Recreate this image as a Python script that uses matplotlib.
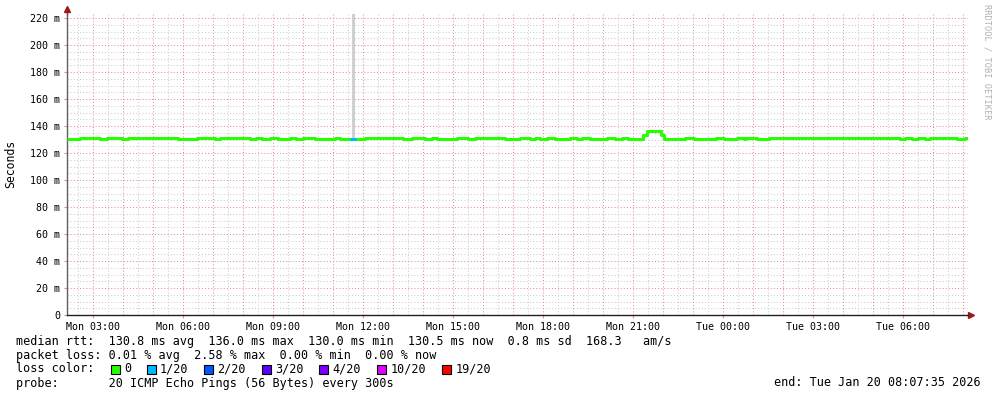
import matplotlib
matplotlib.use("Agg")
import matplotlib.pyplot as plt
from matplotlib.patches import Rectangle
import numpy as np

# ---------------- data ----------------
# step segments: start time (hours after Mon 02:07:35), median rtt (ms), loss count (of 20)
seg_start = [0.0, 0.43, 1.1, 1.33, 1.83, 2.03, 3.7, 4.33, 4.93, 5.1, 6.1, 6.3, 6.5, 6.77,
             7.03, 7.43, 7.63, 7.87, 8.27, 8.93, 9.1, 9.43, 9.63, 9.93, 11.2, 11.5, 11.93,
             12.17, 12.33, 13.0, 13.37, 13.6, 14.6, 15.1, 15.43, 15.6, 15.77, 16.0, 16.27,
             16.77, 17.0, 17.17, 17.43, 18.0, 18.27, 18.5, 18.7, 19.2, 19.33, 19.8, 19.9,
             20.6, 20.9, 21.63, 21.9, 22.33, 22.57, 22.63, 23.0, 23.4, 27.77, 27.93, 28.17,
             28.37, 28.6, 28.77, 28.93, 29.67, 29.93]
seg_rtt = [130.2, 130.9, 130.2, 130.9, 130.2, 130.9, 130.2, 130.9, 130.2, 130.9, 130.2, 130.9,
           130.2, 130.9, 130.2, 130.9, 130.2, 130.9, 130.2, 130.9, 130.2, 130.4, 130.2, 130.9,
           130.2, 130.9, 130.2, 130.9, 130.2, 130.9, 130.2, 130.9, 130.2, 130.9, 130.2, 130.9,
           130.2, 130.9, 130.2, 130.9, 130.2, 130.9, 130.2, 130.9, 130.2, 130.9, 130.2, 133.5,
           136.0, 133.0, 130.2, 130.9, 130.2, 130.9, 130.2, 130.9, 130.2, 130.9, 130.2, 130.9,
           130.2, 130.9, 130.2, 130.9, 130.2, 130.9, 130.9, 130.2, 130.9]
seg_loss = [0] * 21 + [1] + [0] * 47
end_hours = 30.03

# smoke spike (max ping rtt) around Mon 11:40
spike_time = 9.55
spike_top = 240.0

loss_labels = ["0", "1/20", "2/20", "3/20", "4/20", "10/20", "19/20"]
loss_colors = ["#26ff00", "#00b8ff", "#0059ff", "#5e00ff", "#7e00ff", "#dd00ff", "#ff0000"]
loss_levels = [0, 1, 2, 3, 4, 10, 19]

xtick_labels = ["Mon 03:00", "Mon 06:00", "Mon 09:00", "Mon 12:00", "Mon 15:00",
                "Mon 18:00", "Mon 21:00", "Tue 00:00", "Tue 03:00", "Tue 06:00"]
first_tick = 0.874  # Mon 03:00 offset in hours

ytick_values = [0, 20, 40, 60, 80, 100, 120, 140, 160, 180, 200, 220]

stats_rtt = "median rtt:  130.8 ms avg  136.0 ms max  130.0 ms min  130.5 ms now  0.8 ms sd  168.3   am/s"
stats_loss = "packet loss: 0.01 % avg  2.58 % max  0.00 % min  0.00 % now"
probe_txt = "probe:       20 ICMP Echo Pings (56 Bytes) every 300s"
end_txt = "end: Tue Jan 20 08:07:35 2026"

# ---------------- figure ----------------
W, H = 997, 397
fig = plt.figure(figsize=(W / 100, H / 100), dpi=100)
fig.patch.set_facecolor("white")
L, R, T, B = 67, 968, 14, 315
ax = fig.add_axes([L / W, 1 - B / H, (R - L) / W, (B - T) / H])
ax.set_xlim(0, end_hours)
ax.set_ylim(0, 223)
ax.set_facecolor("white")

mono = "DejaVu Sans Mono"

# grid
minor_c = "#cdcdcd"
major_c = "#e59090"
dots = (0, (1.0, 2.0))
for h in np.arange(first_tick - 1.0, end_hours, 0.5):
    if h <= 0:
        continue
    is_major = abs((h - first_tick) - round(h - first_tick)) < 1e-6
    ax.axvline(h, color=major_c if is_major else minor_c, lw=0.75, ls=dots,
               zorder=1.5 if is_major else 1)
for v in np.arange(5, 224, 5):
    is_major = v % 20 == 0
    ax.axhline(v, color=major_c if is_major else minor_c, lw=0.75, ls=dots,
               zorder=1.5 if is_major else 1)

# smoke spike
ax.bar([spike_time], [spike_top - 131], bottom=131, width=0.07, color="#d0d0d0",
       zorder=2, linewidth=0)

# median line
xs = seg_start + [end_hours]
ys = seg_rtt + [seg_rtt[-1]]
ax.step(xs, ys, where="post", color=loss_colors[0], lw=2.2, zorder=3, solid_capstyle="butt")
for i, lo in enumerate(seg_loss):
    if lo > 0:
        idx = max(k for k, lv in enumerate(loss_levels) if lv <= lo)
        x1 = seg_start[i + 1] if i + 1 < len(seg_start) else end_hours
        ax.hlines(seg_rtt[i], seg_start[i], x1, color=loss_colors[idx], lw=2.2, zorder=4)

# axes styling
for s in ["top", "right"]:
    ax.spines[s].set_visible(False)
ax.spines["left"].set_color("#606060")
ax.spines["bottom"].set_color("#202020")
ax.spines["left"].set_linewidth(1.0)
ax.spines["bottom"].set_linewidth(1.0)
ax.set_yticks(ytick_values)
ax.set_yticklabels(["0"] + [f"{v} m" for v in ytick_values[1:]], family=mono, fontsize=7.2)
ax.set_xticks([first_tick + 3 * k for k in range(len(xtick_labels))])
ax.set_xticklabels(xtick_labels, family=mono, fontsize=7.2)
ax.tick_params(axis="y", length=2, pad=3, color=major_c)
ax.tick_params(axis="x", length=2, pad=3, color=major_c)

# arrows
ax.plot([0, 0], [223, 226.5], color="#606060", lw=1.0, clip_on=False)
ax.plot([0], [226.5], marker="^", color="#a01818", ms=4, clip_on=False)
ax.plot([end_hours, end_hours + 0.1], [0, 0], color="#202020", lw=1.0, clip_on=False)
ax.plot([end_hours + 0.1], [0], marker=">", color="#a01818", ms=4, clip_on=False)

fig.text(11 / W, 1 - 164 / H, "Seconds", rotation=90, family=mono, fontsize=8.3,
         ha="center", va="center")
fig.text(987 / W, 1 - 4 / H, "RRDTOOL / TOBI OETIKER", rotation=270, family=mono,
         fontsize=6.2, color="#b0b0b0", ha="center", va="top")

# legend text
cw = 7.2
x0 = 16
fs = 8.5
def row_y(y):
    return 1 - y / H
fig.text(x0 / W, row_y(341), stats_rtt, family=mono, fontsize=fs, va="center")
fig.text(x0 / W, row_y(355), stats_loss, family=mono, fontsize=fs, va="center")
fig.text(x0 / W, row_y(369), "loss color:", family=mono, fontsize=fs, va="center")
fig.text(x0 / W, row_y(383), probe_txt, family=mono, fontsize=fs, va="center")
fig.text(981 / W, row_y(383), end_txt, family=mono, fontsize=fs, va="center", ha="right")

col = 13
for lab, c in zip(loss_labels, loss_colors):
    sx = x0 + col * cw + 1
    fig.add_artist(Rectangle((sx / W, 1 - 374 / H), 9 / W, 9 / H, transform=fig.transFigure,
                             facecolor=c, edgecolor="black", lw=0.8))
    fig.text((x0 + (col + 2) * cw) / W, row_y(369), lab, family=mono, fontsize=fs, va="center")
    col = col + 2 + len(lab) + 2

fig.savefig("out.png", dpi=100)
